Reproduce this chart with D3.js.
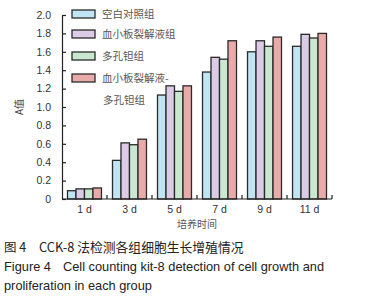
<!DOCTYPE html>
<html lang="zh">
<head>
<meta charset="UTF-8">
<script src="https://cdn.jsdelivr.net/npm/d3@7"></script>
<style>
  * { margin: 0; padding: 0; box-sizing: border-box; }
  body { width: 382px; height: 300px; background: #fff; overflow: hidden; }
  svg { display: block; }
</style>
</head>
<body>
<svg width="382" height="300"></svg>
<script>
let days = ['1 d', '3 d', '5 d', '7 d', '9 d', '11 d']
let groups = ['空白对照组', '血小板裂解液组', '多孔钽组', '血小板裂解液-多孔钽组']
let blank = [0.09, 0.42, 1.13, 1.38, 1.60, 1.66]
let lysate = [0.11, 0.61, 1.23, 1.54, 1.72, 1.79]
let tantalum = [0.11, 0.59, 1.17, 1.52, 1.66, 1.75]
let combo = [0.12, 0.65, 1.23, 1.72, 1.76, 1.80]
let yTicks = [0, 0.2, 0.4, 0.6, 0.8, 1.0, 1.2, 1.4, 1.6, 1.8, 2.0]
let colors = ['#bfe5f3', '#dccbe6', '#c9e8cf', '#e9aaaa']

let series = [blank, lysate, tantalum, combo]

let svg = d3.select('svg')
let font = '"Liberation Sans", Arial, sans-serif'
let cjk = '"Noto Sans CJK SC", sans-serif'

let x = d3.scaleBand().domain(days).range([62, 332]).paddingInner(0.245).paddingOuter(0.122)
let xOuter = d3.scaleBand().domain(days).range([62, 332])
let xSub = d3.scaleBand().domain(d3.range(4)).range([0, x.bandwidth()])
let y = d3.scaleLinear().domain([0, 2]).range([199, 15])

// bars
days.forEach((d, i) => {
    svg.append('g')
        .selectAll('rect')
        .data(series.map((s, k) => ({ k, v: s[i] })))
        .join('rect')
        .attr('x', e => x(d) + xSub(e.k))
        .attr('y', e => y(e.v))
        .attr('width', xSub.bandwidth())
        .attr('height', e => y(0) - y(e.v))
        .attr('fill', e => colors[e.k])
        .attr('stroke', '#2a2a2a')
        .attr('stroke-width', 1.3)
})

// y axis
let yAxis = d3.axisLeft(y)
    .tickValues(yTicks)
    .tickSizeInner(-4)
    .tickSizeOuter(0)
    .tickPadding(11)
    .tickFormat(d => d === 0 ? '0' : d3.format('.1f')(d))
let gy = svg.append('g').attr('transform', 'translate(62,0)').call(yAxis)
gy.selectAll('text').attr('font-family', font).attr('font-size', 10.5).attr('fill', '#333')
gy.selectAll('line, path').attr('stroke', '#222').attr('stroke-width', 1.2)

// x axis
let gx = svg.append('g').attr('transform', 'translate(0,199)')
gx.append('line').attr('x1', 62).attr('x2', 332).attr('stroke', '#222').attr('stroke-width', 1.2)
gx.selectAll('.tk')
    .data(days.slice(1).concat(['end']))
    .join('line')
    .attr('x1', d => d === 'end' ? 332 : xOuter(d))
    .attr('x2', d => d === 'end' ? 332 : xOuter(d))
    .attr('y1', 0).attr('y2', -4)
    .attr('stroke', '#222').attr('stroke-width', 1.2)
gx.selectAll('text')
    .data(days)
    .join('text')
    .attr('x', d => x(d) + x.bandwidth() / 2)
    .attr('y', 14)
    .attr('text-anchor', 'middle')
    .attr('font-family', font).attr('font-size', 10.5).attr('fill', '#333')
    .text(d => d)

// axis titles
svg.append('text')
    .attr('transform', 'translate(23,107) rotate(-90)')
    .attr('text-anchor', 'middle')
    .attr('font-family', cjk).attr('font-size', 10).attr('fill', '#444')
    .text('A值')
svg.append('text')
    .attr('x', 197).attr('y', 228)
    .attr('text-anchor', 'middle')
    .attr('font-family', cjk).attr('font-size', 10).attr('fill', '#555')
    .text('培养时间')

// legend
let legY = [14, 34, 56, 78]
let lg = svg.append('g')
groups.forEach((g, k) => {
    lg.append('rect')
        .attr('x', 72).attr('y', legY[k] - 4)
        .attr('width', 23).attr('height', 8)
        .attr('fill', colors[k]).attr('stroke', '#2a2a2a').attr('stroke-width', 1.3)
    let t = lg.append('text')
        .attr('x', 102).attr('y', legY[k] + 4)
        .attr('font-family', cjk).attr('font-size', 10.5).attr('fill', '#555')
    if (k === 3) {
        t.text('血小板裂解液-')
        lg.append('text').attr('x', 103).attr('y', legY[k] + 26)
            .attr('font-family', cjk).attr('font-size', 10.5).attr('fill', '#555')
            .text('多孔钽组')
    } else {
        t.text(g)
    }
})

// caption
let cap = [
    { t: '图 4', x: 4, y: 252, f: cjk, s: 12.5 },
    { t: 'CCK-8 法检测各组细胞生长增殖情况', x: 39, y: 252, f: cjk, s: 12.8 },
    { t: 'Figure 4', x: 4, y: 271, f: font, s: 12.8 },
    { t: 'Cell counting kit-8 detection of cell growth and', x: 63, y: 271, f: font, s: 12.8 },
    { t: 'proliferation in each group', x: 4, y: 290, f: font, s: 12.8 }
]
svg.selectAll('.cap')
    .data(cap)
    .join('text')
    .attr('x', d => d.x).attr('y', d => d.y)
    .attr('font-family', d => d.f).attr('font-size', d => d.s).attr('fill', '#222')
    .text(d => d.t)
</script>
</body>
</html>
